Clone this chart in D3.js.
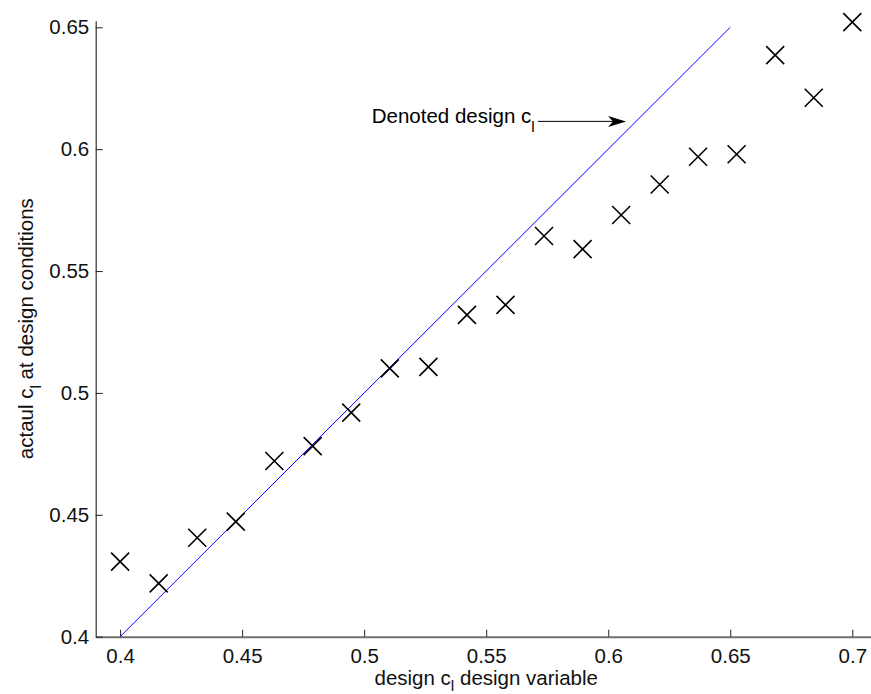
<!DOCTYPE html>
<html>
<head>
<meta charset="utf-8">
<script src="https://cdn.jsdelivr.net/npm/d3@7"></script>
<style>
  body { margin: 0; background: #fff; }
  svg { display: block; font-family: "Liberation Sans", Arial, Helvetica, sans-serif; }
</style>
</head>
<body>
<svg id="chart" width="871" height="694"></svg>
<script>
// design cl (x) vs actual cl at design conditions (y)
const designCl = [0.4, 0.4158, 0.4316, 0.4474, 0.4632, 0.4789, 0.4947, 0.5105, 0.5263, 0.5421,
                  0.5579, 0.5737, 0.5895, 0.6053, 0.6211, 0.6368, 0.6526, 0.6684, 0.6842, 0.7];
const actualCl = [0.4308, 0.4219, 0.4406, 0.4472, 0.4721, 0.4782, 0.4919, 0.5101, 0.5107, 0.5320,
                  0.5361, 0.5644, 0.5590, 0.5730, 0.5855, 0.5969, 0.5979, 0.6386, 0.6211, 0.6521];
// reference line y = x
const refLine = [[0.4, 0.4], [0.65, 0.65]];
const xTicks = [0.4, 0.45, 0.5, 0.55, 0.6, 0.65, 0.7];
const yTicks = [0.4, 0.45, 0.5, 0.55, 0.6, 0.65];
// annotation: text start, arrow tail, arrow tip (data units)
const noteText = [0.5031, 0.6107];
const noteArrow = [[0.5712, 0.6114], [0.6073, 0.6114]];

var margin = {top: 20.7, left: 95.7},
    width = 781,
    height = 616;

var fs = 20.5, subFs = 15.5;

var svg = d3.select("#chart");
var g = svg.append("g")
  .attr("transform", "translate(" + margin.left + "," + margin.top + ")");

var x = d3.scaleLinear().domain([0.39, 0.71]).range([0, width]);
var y = d3.scaleLinear().domain([0.4, 0.6527]).range([height, 0]);

var fmt = d => String(+d.toFixed(2));

// axes, ticks pointing inward like matlab
var xAxis = g.append("g")
  .attr("transform", "translate(0," + height + ")")
  .call(d3.axisBottom(x).tickValues(xTicks).tickFormat(fmt).tickSizeInner(-7).tickSizeOuter(0).tickPadding(11.5));
xAxis.select(".domain").attr("stroke", "#6e6e6e").attr("stroke-width", 2);
xAxis.selectAll(".tick line").attr("stroke", "#222");

var yAxis = g.append("g")
  .call(d3.axisLeft(y).tickValues(yTicks).tickFormat(fmt).tickSizeInner(-7).tickSizeOuter(0).tickPadding(6.5));
yAxis.select(".domain").attr("stroke", "#333").attr("stroke-width", 1.2);
yAxis.selectAll(".tick line").attr("stroke", "#222");

g.selectAll(".tick text").attr("font-size", fs).attr("fill", "#111").attr("font-family", null);

// y = x line
g.append("path")
  .datum(refLine)
  .attr("fill", "none")
  .attr("stroke", "#0000ff")
  .attr("stroke-width", 1)
  .attr("d", d3.line().x(d => x(d[0])).y(d => y(d[1])));

// markers
var pts = designCl.map((d, i) => ({x: d, y: actualCl[i]}));
g.selectAll(".mark")
  .data(pts)
  .enter()
  .append("path")
    .attr("class", "mark")
    .attr("transform", d => "translate(" + x(d.x) + "," + y(d.y) + ")")
    .attr("d", "M-9,-9L9,9M-9,9L9,-9")
    .attr("stroke", "#000")
    .attr("stroke-width", 1.6)
    .attr("fill", "none");

// annotation
var note = g.append("text")
  .attr("x", x(noteText[0]))
  .attr("y", y(noteText[1]))
  .attr("font-size", fs)
  .attr("fill", "#000");
note.append("tspan").text("Denoted design c");
note.append("tspan").attr("font-size", subFs).attr("dy", 9).text("l");

var ax0 = x(noteArrow[0][0]), ay = y(noteArrow[0][1]), ax1 = x(noteArrow[1][0]);
g.append("line")
  .attr("x1", ax0).attr("y1", ay)
  .attr("x2", ax1 - 10).attr("y2", ay)
  .attr("stroke", "#000")
  .attr("stroke-width", 1);
g.append("path")
  .attr("d", "M" + ax1 + "," + ay + "L" + (ax1 - 18) + "," + (ay - 5.5) + "L" + (ax1 - 13) + "," + ay + "L" + (ax1 - 18) + "," + (ay + 5.5) + "Z")
  .attr("fill", "#000");

// axis labels
var xl = g.append("text")
  .attr("x", width / 2)
  .attr("y", height + 48)
  .attr("text-anchor", "middle")
  .attr("font-size", fs)
  .attr("fill", "#111");
xl.append("tspan").text("design c");
xl.append("tspan").attr("font-size", subFs).attr("dy", 6.5).text("l");
xl.append("tspan").attr("dy", -6.5).text(" design variable");

var yl = g.append("text")
  .attr("transform", "translate(" + (33 - margin.left) + "," + (height / 2) + ") rotate(-90)")
  .attr("text-anchor", "middle")
  .attr("font-size", fs)
  .attr("fill", "#111");
yl.append("tspan").text("actaul c");
yl.append("tspan").attr("font-size", subFs).attr("dy", 8).text("l");
yl.append("tspan").attr("dy", -8).text(" at design conditions");
</script>
</body>
</html>
